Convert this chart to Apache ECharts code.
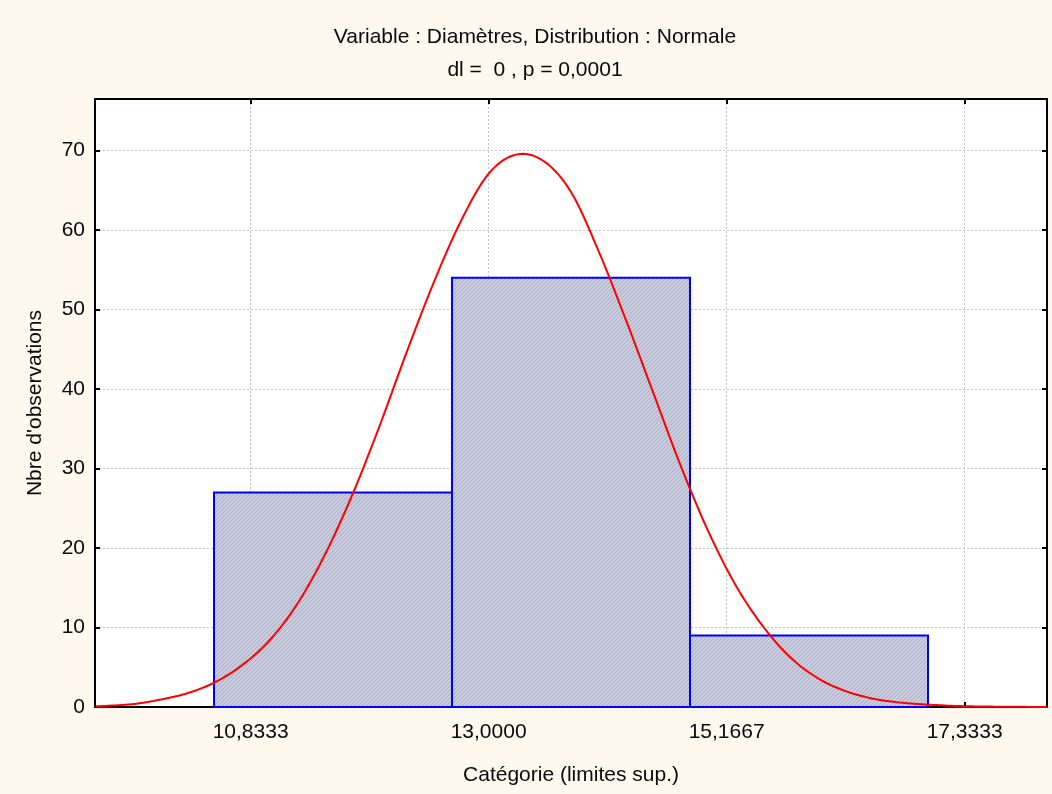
<!DOCTYPE html>
<html><head><meta charset="utf-8">
<script src="https://cdn.jsdelivr.net/npm/echarts@6/dist/echarts.min.js"></script>
<style>html,body{margin:0;padding:0;background:#fdf9ef}#c{width:1052px;height:794px}</style>
</head><body><div id="c"></div><script>
const titleLine1 = 'Variable : Diamètres, Distribution : Normale';
const titleLine2 = 'dl =  0 , p = 0,0001';
const xAxisName = 'Catégorie (limites sup.)';
const yAxisName = "Nbre d'observations";
const xTicks = [10.8333, 13.0, 15.1667, 17.3333];
const xTickLabels = ['10,8333', '13,0000', '15,1667', '17,3333'];
const yTicks = [0, 10, 20, 30, 40, 50, 60, 70];
const binLower = [10.5, 12.6667, 14.8333];
const binUpper = [12.6667, 14.8333, 17.0];
const binCounts = [27, 54, 9];
const curveX = [9.42, 9.75, 10.00, 10.25, 10.50, 10.75, 11.00, 11.25, 11.50, 11.75, 12.00, 12.25, 12.50, 12.75, 13.00, 13.25, 13.50, 13.75, 14.00, 14.25, 14.50, 14.75, 15.00, 15.25, 15.50, 15.75, 16.00, 16.25, 16.50, 16.75, 17.00, 17.33, 17.75, 18.08];
const curveY = [0.08, 0.35, 0.9, 1.7, 3.05, 5.2, 8.3, 12.8, 18.9, 26.4, 35.1, 44.5, 53.4, 61.2, 67.1, 69.5, 68.7, 64.8, 57.4, 48.7, 39.5, 30.3, 22.1, 15.3, 10.1, 6.2, 3.6, 2.0, 1.05, 0.55, 0.3, 0.1, 0.03, 0.0];

const FONT = "'Liberation Sans', Arial, sans-serif";
const X_MIN = 9.41667, X_MAX = 18.08333, Y_MIN = 0, Y_MAX = 76.5;
const FS = 21;

// hatch pattern
const tile = document.createElement('canvas');
tile.width = 4; tile.height = 4;
const tc = tile.getContext('2d');
tc.fillStyle = '#c9cbdf'; tc.fillRect(0, 0, 4, 4);
tc.fillStyle = '#aaacc8';
for (let i = 0; i < 4; i++) { tc.fillRect(i, 3 - i, 1, 1); }
const hatch = { image: tile, repeat: 'repeat' };

const bins = binLower.map((lo, i) => [lo, binUpper[i], binCounts[i]]);
const curve = curveX.map((x, i) => [x, curveY[i]]);

// Catmull-Rom smoothing through the read points (in pixel space, after axis mapping)
function catmullRom(pts, steps) {
  const out = [];
  for (let i = 0; i < pts.length - 1; i++) {
    const p0 = pts[Math.max(0, i - 1)], p1 = pts[i], p2 = pts[i + 1], p3 = pts[Math.min(pts.length - 1, i + 2)];
    for (let s = 0; s < steps; s++) {
      const t = s / steps, t2 = t * t, t3 = t2 * t;
      const f = (a, b, c, d) => 0.5 * ((2 * b) + (-a + c) * t + (2 * a - 5 * b + 4 * c - d) * t2 + (-a + 3 * b - 3 * c + d) * t3);
      out.push([f(p0[0], p1[0], p2[0], p3[0]), f(p0[1], p1[1], p2[1], p3[1])]);
    }
  }
  out.push(pts[pts.length - 1]);
  return out;
}

const chart = echarts.init(document.getElementById('c'), null, { renderer: 'canvas' });
const gridLine = { show: true, lineStyle: { color: '#c4c4c4', type: [2, 2], width: 1 } };
const TXT = '#0a0a0a';
chart.setOption({
  backgroundColor: '#fdf9ef',
  animation: false,
  textStyle: { fontFamily: FONT },
  graphic: [
    { type: 'rect', shape: { x: 95, y: 99, width: 952, height: 608 }, style: { fill: '#ffffff' }, z: -10, silent: true },
    { type: 'text', x: 535, y: 37, style: { text: titleLine1, font: FS + 'px ' + FONT, fill: TXT, align: 'center', verticalAlign: 'middle' } },
    { type: 'text', x: 535, y: 70, style: { text: titleLine2, font: FS + 'px ' + FONT, fill: TXT, align: 'center', verticalAlign: 'middle' } }
  ],
  grid: { left: 95, right: 5, top: 99, bottom: 87, outerBoundsMode: 'none', containLabel: false },
  xAxis: [
    {
      type: 'value', min: X_MIN, max: X_MAX, position: 'bottom',
      name: xAxisName, nameLocation: 'middle', nameGap: 58,
      nameTextStyle: { fontSize: FS, color: TXT, fontFamily: FONT },
      axisLine: { show: true, onZero: false, lineStyle: { color: '#000', width: 2 } },
      axisTick: { show: true, inside: true, length: 5, customValues: xTicks, lineStyle: { color: '#000', width: 2 } },
      axisLabel: { customValues: xTicks, fontSize: FS, color: TXT, margin: 15, fontFamily: FONT,
        formatter: v => { const i = xTicks.findIndex(t => Math.abs(t - v) < 1e-6); return i >= 0 ? xTickLabels[i] : ''; } },
      splitLine: gridLine
    },
    {
      type: 'value', min: X_MIN, max: X_MAX, position: 'top',
      axisLine: { show: true, onZero: false, lineStyle: { color: '#000', width: 2 } },
      axisTick: { show: true, inside: true, length: 5, customValues: xTicks, lineStyle: { color: '#000', width: 2 } },
      axisLabel: { show: false }, splitLine: { show: false }
    }
  ],
  yAxis: [
    {
      type: 'value', min: Y_MIN, max: Y_MAX, position: 'left',
      name: yAxisName, nameLocation: 'middle', nameGap: 49, nameRotate: 90,
      nameTextStyle: { fontSize: FS, color: TXT, fontFamily: FONT },
      axisLine: { show: true, onZero: false, lineStyle: { color: '#000', width: 2 } },
      axisTick: { show: true, inside: true, length: 5, customValues: yTicks, lineStyle: { color: '#000', width: 2 } },
      axisLabel: { customValues: yTicks, fontSize: FS, color: TXT, margin: 10, fontFamily: FONT },
      splitLine: gridLine
    },
    {
      type: 'value', min: Y_MIN, max: Y_MAX, position: 'right',
      axisLine: { show: true, onZero: false, lineStyle: { color: '#000', width: 2 } },
      axisTick: { show: true, inside: true, length: 5, customValues: yTicks, lineStyle: { color: '#000', width: 2 } },
      axisLabel: { show: false }, splitLine: { show: false }
    }
  ],
  series: [
    {
      type: 'custom', xAxisIndex: 0, yAxisIndex: 0, data: bins, encode: { x: [0, 1], y: 2 }, z: 2,
      renderItem: (params, api) => {
        const p0 = api.coord([api.value(0), api.value(2)]);
        const p1 = api.coord([api.value(1), 0]);
        return { type: 'rect', shape: { x: p0[0], y: p0[1], width: p1[0] - p0[0], height: p1[1] - p0[1] },
          style: { fill: hatch, stroke: '#0000ff', lineWidth: 2 } };
      }
    },
    {
      type: 'custom', xAxisIndex: 0, yAxisIndex: 0, data: [curve[0]], encode: { x: 0, y: 1 }, z: 5, silent: true,
      renderItem: (params, api) => {
        const pts = curve.map(p => api.coord(p));
        return { type: 'polyline', shape: { points: catmullRom(pts, 12) },
          style: { fill: null, stroke: '#ff0000', lineWidth: 2, lineJoin: 'round' } };
      }
    }
  ]
});
</script></body></html>
